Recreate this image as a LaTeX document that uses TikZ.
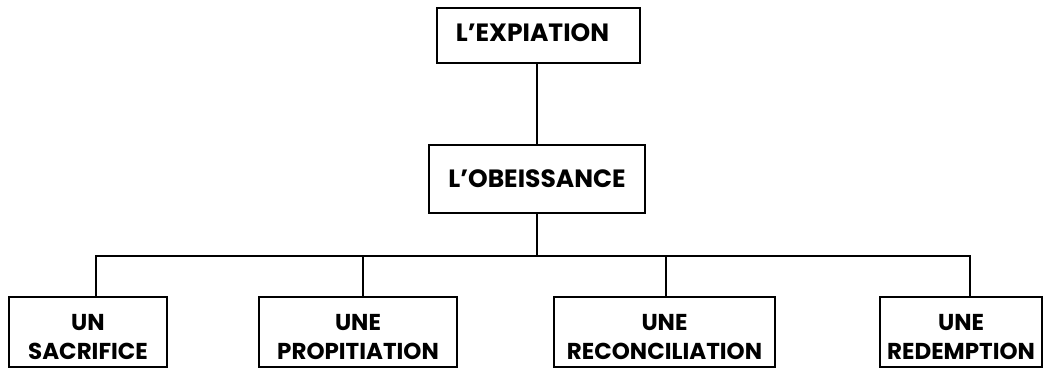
\documentclass[tikz,border=0pt]{standalone}
\usepackage{fontspec}
\setmainfont{Poppins}
\newcommand{\twolines}[2]{\raisebox{-14pt}[0pt][0pt]{\begin{tabular}{@{}c@{}}#1\\[1pt]#2\end{tabular}}}
\begin{document}
\begin{tikzpicture}[x=1pt,y=-1pt,
  box/.style={draw,line width=2pt,rectangle,inner sep=0pt,align=center,
    font=\fontsize{23}{28}\selectfont\bfseries},
  bigbox/.style={box,font=\fontsize{25}{30}\selectfont\bfseries},
  conn/.style={line width=2pt}]
\useasboundingbox (0,0) rectangle (1043,369);
\node[bigbox,minimum width=203pt,minimum height=55pt] (top) at (538.5,35.5) {\raisebox{6pt}{L’EXPIATION\hspace{12pt}}};
\node[bigbox,minimum width=216pt,minimum height=68pt] (mid) at (537,179) {\raisebox{1pt}{L’OBEISSANCE}};
\node[box,minimum width=158pt,minimum height=70pt] (b1) at (88,332) {\twolines{UN}{SACRIFICE}};
\node[box,minimum width=198pt,minimum height=70pt] (b2) at (358,332) {\twolines{UNE}{PROPITIATION}};
\node[box,minimum width=221pt,minimum height=70pt] (b3) at (664.5,332) {\twolines{UNE}{RECONCILIATION}};
\node[box,minimum width=162pt,minimum height=70pt] (b4) at (961,332) {\twolines{UNE}{REDEMPTION}};
\coordinate (bus) at (537,256);
\draw[conn] (mid.north |- top.south) -- (mid.north);
\draw[conn] (mid.south) -- (bus);
\draw[conn] ([xshift=8pt]b1.north) |- ([xshift=9pt]b4.north |- bus) -- ([xshift=9pt]b4.north);
\draw[conn] ([xshift=5pt]b2.north) -- ([xshift=5pt]b2.north |- bus);
\draw[conn] ([xshift=1.5pt]b3.north) -- ([xshift=1.5pt]b3.north |- bus);
\end{tikzpicture}
\end{document}
